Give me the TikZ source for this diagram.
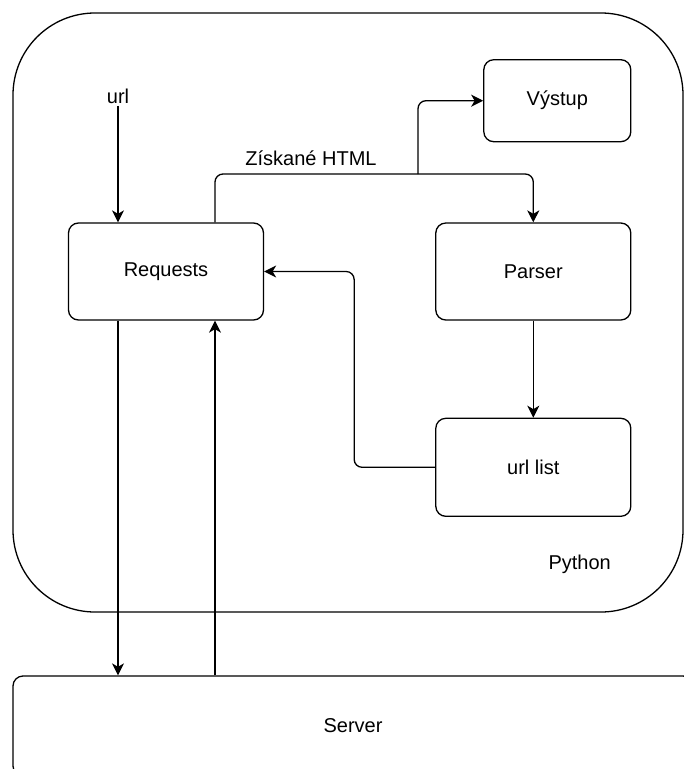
\documentclass[tikz,border=0pt]{standalone}
\usepackage{fontspec}
\setmainfont{Liberation Sans}
\usetikzlibrary{positioning,arrows.meta}

\begin{document}
\begin{tikzpicture}[x=1pt,y=-1pt,line width=1.3pt,font=\fontsize{20}{24}\selectfont,box/.style={draw,rounded corners=10pt,minimum width=195pt,minimum height=97pt,inner sep=0pt},arr/.style={-{Stealth[length=12pt,width=12pt,inset=3.5pt]},rounded corners=8pt},lbl/.style={inner sep=2pt}] %
    \useasboundingbox (0,0) rectangle (684,769) ; %
    \clip (0,0) rectangle (684,769) ; %
    \node[draw,rounded corners=82pt,minimum width=670pt,minimum height=599pt] (python) at (348,312.5) {} ; %
    \node[lbl] (pylbl) at ([xshift=-104pt,yshift=48pt]python.south east) {Python} ; %
    \node[box] (requests) at (166,271.5) {Requests} ; %
    \node[box, right=171pt of requests] (parser) {Parser} ; %
    \node[box, below=97pt of parser,minimum height=98pt] (urllist) {url list} ; %
    \node[box, above=80pt of parser.north east,anchor=south east,minimum width=147pt,minimum height=82pt] (vystup) {Výstup} ; %
    \node[lbl] (url) at (118,96) {url} ; %
    \node[draw,rounded corners=10pt,minimum width=680pt,minimum height=100pt] (server) at (353,726) {Server} ; %
    \coordinate (split) at (418,174) ; %
    \node[lbl] (html) at (311,158) {Získané HTML} ; %
    \coordinate (dn) at ([xshift=-48pt]requests.south) ; %
    \coordinate (up) at ([xshift=49pt]requests.south) ; %
    \draw[arr] (url) -- (url |- requests.north) ; %
    \draw[arr] ([xshift=49pt]requests.north) |- (split) -| (parser.north) ; %
    \draw[arr] (split) |- (vystup.west) ; %
    \draw[arr] (parser) -- (urllist) ; %
    \draw[arr] (urllist.west) -| ([xshift=90pt]requests.east) -- (requests.east) ; %
    \draw[arr] (dn) -- (dn |- server.north) ; %
    \draw[arr] (up |- server.north) -- (up) ; %
\end{tikzpicture}
\end{document}
